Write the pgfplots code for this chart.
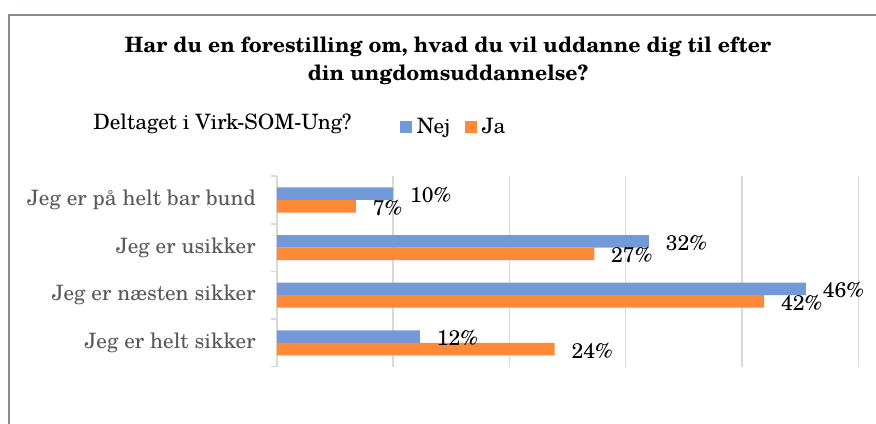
\documentclass[border=0pt]{standalone}
\usepackage{fontspec}
\setmainfont{texgyreschola}[Extension=.otf, UprightFont=*-regular, BoldFont=*-bold, ItalicFont=*-italic, BoldItalicFont=*-bolditalic]
\usepackage{pgfplots}
\pgfplotsset{compat=1.18}
\definecolor{nejblue}{HTML}{7499D9}
\definecolor{jaorange}{HTML}{FF8937}
\definecolor{gridgray}{HTML}{D9D9D9}
\definecolor{labgray}{HTML}{595959}
\definecolor{framegray}{HTML}{868A92}
\newcommand{\cf}{\fontsize{15.9}{19}\selectfont}
\begin{document}
\begin{tikzpicture}
\useasboundingbox (0,0) rectangle (657pt,318pt);
\draw[framegray, line width=1.5pt] (6.75pt,-5pt) -- (6.75pt,306.75pt) -- (665pt,306.75pt);
\node[align=center, font=\bfseries\fontsize{15.9}{21}\selectfont, inner sep=0pt] at (336pt,272.25pt)
  {Har du en forestilling om, hvad du vil uddanne dig til efter\\din ungdomsuddannelse?};
\node[anchor=base west, inner sep=0pt, font=\cf] at (69.75pt,220.5pt) {Deltaget i Virk-SOM-Ung?};
\begin{axis}[
  at={(207.6pt,43.05pt)}, anchor=south west,
  scale only axis, width=436.1pt, height=142.8pt,
  xbar, bar width=9.4pt,
  xmin=0, xmax=50, ymin=-0.5, ymax=3.5,
  axis lines*=left,
  x axis line style={draw=none},
  y axis line style={draw=gridgray, line width=1.1pt},
  xtick={0,10,20,30,40,50}, xticklabels={}, x tick style={draw=none},
  xmajorgrids, grid style={draw=gridgray, line width=1.1pt},
  ytick={0,1,2,3},
  yticklabels={Jeg er helt sikker, Jeg er næsten sikker, Jeg er usikker, Jeg er på helt bar bund},
  minor ytick={-0.5,0.5,1.5,2.5,3.5},
  major tick length=0pt, minor tick length=4.5pt, tick align=outside,
  y tick style={draw=gridgray, line width=1.1pt},
  yticklabel style={font=\cf, text=labgray, anchor=east, inner sep=0pt, xshift=-15.6pt},
  point meta=explicit symbolic,
  nodes near coords,
  nodes near coords style={font=\cf, text=black, anchor=west, inner sep=0pt, xshift=12.5pt, yshift=-1.1pt},
  legend columns=-1,
  legend style={at={(0.2119,1.2584)}, anchor=west, draw=none, fill=none, inner sep=0pt, font=\cf,
    nodes={inner sep=0pt},
    /tikz/every odd column/.append style={column sep=3.5pt},
    /tikz/every even column/.append style={column sep=11pt}},
  legend image code/.code={\fill[#1] (0pt,-4.5pt) rectangle (9pt,4.5pt);},
]
\addplot[fill=nejblue, draw=none, bar shift=4.7pt] coordinates {(12.3,0)[12\%] (45.5,1)[46\%] (32.0,2)[32\%] (10.0,3)[10\%]};
\addlegendentry{Nej}
\addplot[fill=jaorange, draw=none, bar shift=-4.7pt] coordinates {(23.9,0)[24\%] (41.9,1)[42\%] (27.3,2)[27\%] (6.8,3)[7\%]};
\addlegendentry{Ja}
\end{axis}
\end{tikzpicture}
\end{document}
